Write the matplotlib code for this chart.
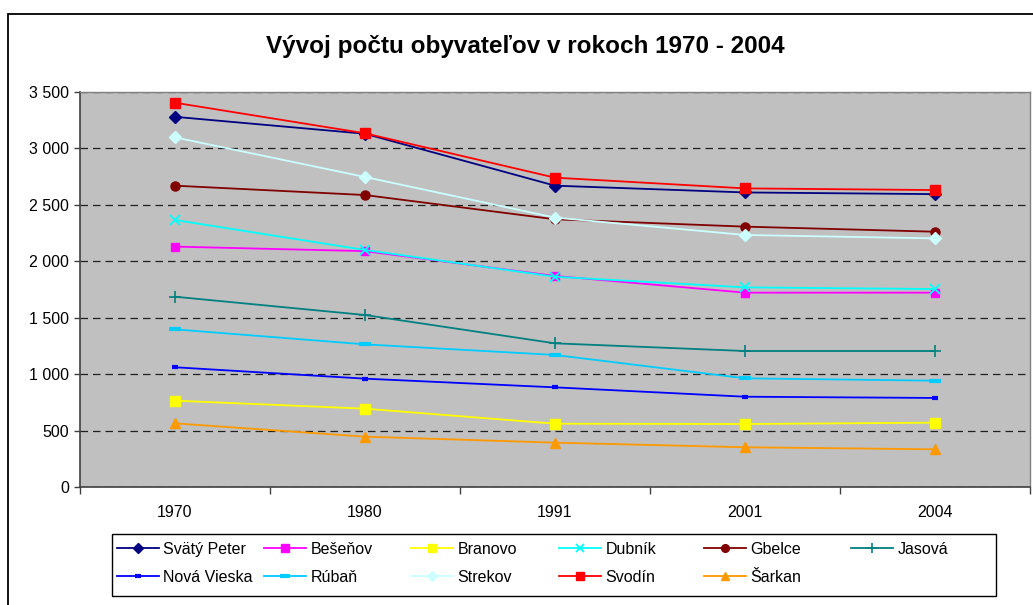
import matplotlib.pyplot as plt
from matplotlib.patches import Rectangle
from matplotlib.ticker import FuncFormatter

plt.rcParams['font.family'] = ['Liberation Sans', 'DejaVu Sans']

years = ['1970', '1980', '1991', '2001', '2004']

svaty_peter = [3280, 3130, 2670, 2610, 2595]
besenov = [2130, 2090, 1870, 1722, 1722]
branovo = [765, 694, 561, 558, 570]
dubnik = [2366, 2100, 1863, 1769, 1754]
gbelce = [2670, 2587, 2372, 2307, 2262]
jasova = [1686, 1524, 1273, 1205, 1205]
nova_vieska = [1061, 960, 883, 800, 789]
ruban = [1397, 1264, 1170, 963, 942]
strekov = [3098, 2747, 2387, 2233, 2203]
svodin = [3405, 3134, 2741, 2646, 2631]
sarkan = [564, 446, 393, 352, 334]

names = ['Svätý Peter', 'Bešeňov', 'Branovo', 'Dubník', 'Gbelce', 'Jasová',
         'Nová Vieska', 'Rúbaň', 'Strekov', 'Svodín', 'Šarkan']
values = [svaty_peter, besenov, branovo, dubnik, gbelce, jasova,
          nova_vieska, ruban, strekov, svodin, sarkan]
colors = ['#000080', '#FF00FF', '#FFFF00', '#00FFFF', '#800000', '#008080',
          '#0000FF', '#00CCFF', '#CCFFFF', '#FF0000', '#FF9900']
# (marker, size, edge width)
markers = [('D', 6, 1), ('s', 6, 1), ('s', 6.5, 1), ('x', 7, 1.3), ('o', 6.5, 1), ('+', 8, 1.2),
           ('_', 5, 3), ('_', 8, 3), ('D', 6, 1), ('s', 6.5, 1), ('^', 7.5, 1)]

W, H = 1033, 605
fig = plt.figure(figsize=(W / 100, H / 100), dpi=100)
ax = fig.add_axes([80 / W, 1 - 487 / H, 950 / W, 395 / H])
ax.set_facecolor('#C0C0C0')

x = list(range(len(years)))
handles = []
for name, vals, c, (m, ms, mew) in zip(names, values, colors, markers):
    h, = ax.plot(x, vals, color=c, lw=1.3, marker=m, markersize=ms,
                 markerfacecolor=c, markeredgecolor=c, markeredgewidth=mew,
                 label=name, zorder=3)
    handles.append(h)

ax.set_xlim(-0.5, len(years) - 0.5)
ax.set_ylim(0, 3500)
ax.set_yticks(range(0, 3501, 500))
ax.yaxis.set_major_formatter(FuncFormatter(lambda v, p: f'{int(v):,}'.replace(',', ' ')))
ax.set_xticks(x)
ax.set_xticklabels(years)
ax.set_xticks([i - 0.5 for i in range(len(years) + 1)], minor=True)
ax.tick_params(axis='x', which='major', length=0, pad=13, labelsize=11.5)
ax.tick_params(axis='x', which='minor', length=5, width=1, color='#404040')
ax.tick_params(axis='y', length=4, width=1, color='#404040', labelsize=11.5, pad=4)
ax.grid(axis='y', color='#202020', linestyle=(0, (6, 4)), linewidth=0.9, zorder=1)
ax.set_axisbelow(True)

for side in ['top', 'right']:
    ax.spines[side].set_color('#808080')
    ax.spines[side].set_linewidth(1)
for side in ['left', 'bottom']:
    ax.spines[side].set_color('#404040')
    ax.spines[side].set_linewidth(1.2)

fig.text(525 / W, 1 - 47 / H, 'Vývoj počtu obyvateľov v rokoch 1970 - 2004',
         ha='center', va='center', fontsize=17.5, fontweight='bold')

# outer chart frame (cut by the picture edge on the right and bottom)
fig.patches.append(Rectangle((8 / W, -0.1), 1.2, 1 - 14 / H + 0.1,
                             transform=fig.transFigure, fill=False,
                             edgecolor='black', linewidth=1.3))

# legend box, laid out row by row like Excel
fig.patches.append(Rectangle((112 / W, 1 - 596 / H), 884 / W, 62 / H,
                             transform=fig.transFigure, fill=False,
                             edgecolor='black', linewidth=1))
col_x = [117, 264, 411, 559, 704, 851]
for j, cx in enumerate(col_x):
    col = [handles[j]] + ([handles[j + 6]] if j + 6 < len(handles) else [])
    fig.legend(handles=col, labels=[h.get_label() for h in col],
               loc='upper left', bbox_to_anchor=(cx / W, 1 - 542 / H),
               frameon=False, borderpad=0, borderaxespad=0, fontsize=11.5,
               handlelength=2.6, handletextpad=0.3, labelspacing=0.8,
               markerscale=0.85)

fig.savefig('out.png', dpi=100)
